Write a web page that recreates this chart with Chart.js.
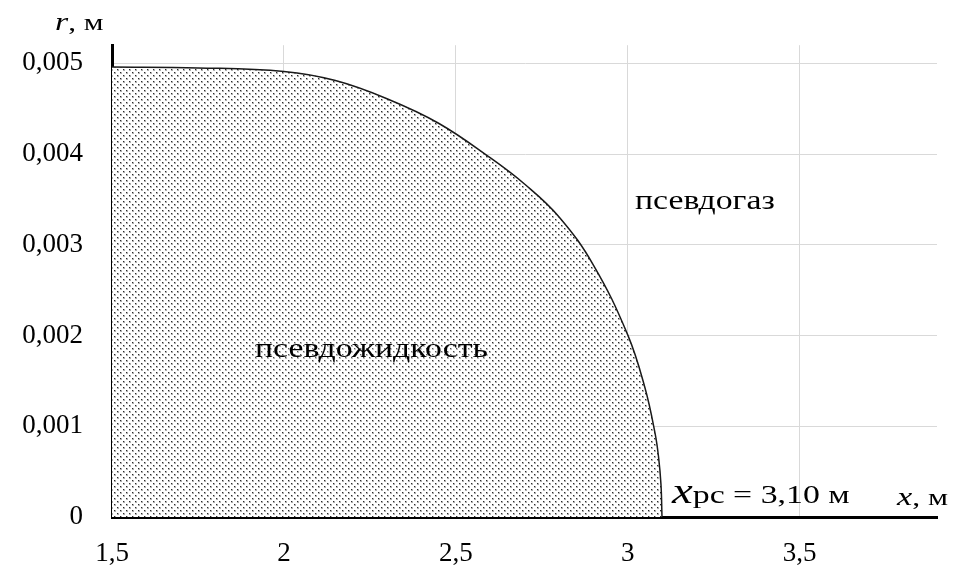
<!DOCTYPE html>
<html>
<head>
<meta charset="utf-8">
<script src="https://cdn.jsdelivr.net/npm/chart.js@4.4.1/dist/chart.umd.min.js"></script>
<style>
  html, body { margin: 0; padding: 0; background: #fff; }
  #wrap { width: 953px; height: 576px; position: relative; }
</style>
</head>
<body>
<div id="wrap"><canvas id="chart"></canvas></div>
<script>
// граница раздела псевдожидкость / псевдогаз
const xValues = [1.5, 1.75, 2.0, 2.15, 2.3, 2.45, 2.6, 2.7, 2.8, 2.9, 3.0, 3.05, 3.08, 3.09, 3.097, 3.1];
const rValues = [0.00496, 0.00495, 0.00491, 0.00481, 0.00461, 0.00434, 0.00396, 0.00367, 0.00331, 0.00278, 0.00201, 0.00143, 0.00092, 0.00066, 0.00036, 0];

const xTicks = [1.5, 2, 2.5, 3, 3.5];
const yTicks = [0, 0.001, 0.002, 0.003, 0.004, 0.005];

const serif = '"Liberation Serif", "Times New Roman", serif';

function dotPattern() {
    const c = document.createElement('canvas');
    c.width = 6;
    c.height = 6;
    const p = c.getContext('2d');
    p.fillStyle = '#ffffff';
    p.fillRect(0, 0, 6, 6);
    // точка: тёмный центр и светлый край
    [[0, 0], [3, 3]].forEach(([dx, dy]) => {
        p.fillStyle = '#b0b0b0';
        p.fillRect(dx, dy, 2, 2);
        p.fillStyle = '#2a2a2a';
        p.fillRect(dx, dy, 1, 1);
    });
    return p.createPattern(c, 'repeat');
}

function stretchedText(ctx, parts, x, y, sx) {
    // parts: [{text, font}], подряд по базовой линии
    ctx.save();
    ctx.translate(x, y);
    ctx.scale(sx, 1);
    ctx.textBaseline = 'alphabetic';
    ctx.textAlign = 'left';
    let cx = 0;
    parts.forEach(part => {
        ctx.font = part.font;
        ctx.fillText(part.text, cx, 0);
        cx += ctx.measureText(part.text).width;
    });
    ctx.restore();
}

const labelsPlugin = {
    id: 'labels',
    afterDatasetsDraw(chart) {
        const ctx = chart.ctx;
        ctx.save();
        ctx.fillStyle = '#000';

        ctx.save();
        ctx.shadowColor = 'rgba(255,255,255,0.9)';
        ctx.shadowBlur = 10;
        stretchedText(ctx, [{ text: 'псевдожидкость', font: '27px ' + serif }], 255, 357, 1.25);
        ctx.restore();

        stretchedText(ctx, [{ text: 'псевдогаз', font: '27px ' + serif }], 635, 209, 1.25);

        stretchedText(ctx, [
            { text: 'r', font: 'italic 26px ' + serif },
            { text: ', м', font: '24px ' + serif }
        ], 55, 30, 1.3);

        stretchedText(ctx, [
            { text: 'x', font: 'italic 26px ' + serif },
            { text: ', м', font: '24px ' + serif }
        ], 897, 505, 1.32);

        stretchedText(ctx, [
            { text: 'x', font: 'italic 36px ' + serif },
            { text: 'рс = 3,10 м', font: '26px ' + serif }
        ], 672, 503, 1.3);

        ctx.restore();
    }
};

new Chart(document.getElementById('chart'), {
    type: 'line',
    data: {
        datasets: [{
            data: xValues.map((x, i) => ({ x: x, y: rValues[i] })),
            borderColor: '#1a1a1a',
            borderWidth: 1.5,
            backgroundColor: dotPattern(),
            fill: 'origin',
            pointRadius: 0,
            tension: 0.4
        }]
    },
    options: {
        responsive: true,
        maintainAspectRatio: false,
        animation: false,
        layout: { padding: { top: 45, right: 16, left: 0, bottom: 0 } },
        plugins: {
            legend: { display: false },
            tooltip: { enabled: false }
        },
        scales: {
            x: {
                type: 'linear',
                min: 1.5,
                max: 3.9,
                afterBuildTicks: scale => { scale.ticks = xTicks.map(v => ({ value: v })); },
                afterFit: scale => { scale.height = 59; },
                grid: { color: '#d9d9d9', lineWidth: 1, drawTicks: false },
                border: { color: '#000', width: 3 },
                ticks: {
                    padding: 21,
                    color: '#000',
                    font: { family: serif, size: 27 },
                    maxRotation: 0,
                    callback: v => String(v).replace('.', ',')
                }
            },
            y: {
                type: 'linear',
                min: 0,
                max: 0.0052,
                afterBuildTicks: scale => { scale.ticks = yTicks.map(v => ({ value: v })); },
                afterFit: scale => { scale.width = 112; },
                grid: { color: '#d9d9d9', lineWidth: 1, drawTicks: false },
                border: { color: '#000', width: 3 },
                ticks: {
                    padding: 29,
                    color: '#000',
                    font: { family: serif, size: 27 },
                    callback: v => v === 0 ? '0' : v.toFixed(3).replace('.', ',')
                }
            }
        }
    },
    plugins: [labelsPlugin]
});
</script>
</body>
</html>
